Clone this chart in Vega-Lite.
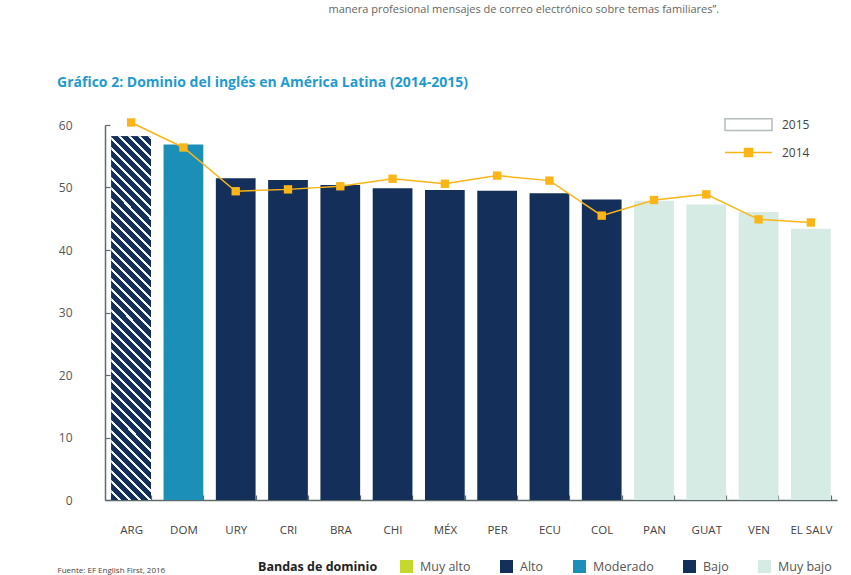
{
  "$schema": "https://vega.github.io/schema/vega-lite/v6.json",
  "width": 732,
  "height": 375,
  "autosize": "none",
  "padding": {"left": 105, "top": 125, "right": 14, "bottom": 75},
  "background": "white",
  "config": {"view": {"stroke": null}, "font": "Open Sans"},
  "title": {
    "text": "Gráfico 2: Dominio del inglés en América Latina (2014-2015)",
    "anchor": "start", "frame": "group", "dx": -48, "dy": 113, "offset": 26,
    "fontSize": 14, "fontWeight": "bold", "color": "#1f9bd0", "font": "Open Sans"
  },
  "data": {"values": [
    {"country": "ARG", "band": "Alto", "v2015": 58.2, "v2014": 60.4},
    {"country": "DOM", "band": "Moderado", "v2015": 56.9, "v2014": 56.4},
    {"country": "URY", "band": "Bajo", "v2015": 51.5, "v2014": 49.4},
    {"country": "CRI", "band": "Bajo", "v2015": 51.2, "v2014": 49.7},
    {"country": "BRA", "band": "Bajo", "v2015": 50.4, "v2014": 50.2},
    {"country": "CHI", "band": "Bajo", "v2015": 49.9, "v2014": 51.4},
    {"country": "MÉX", "band": "Bajo", "v2015": 49.6, "v2014": 50.6},
    {"country": "PER", "band": "Bajo", "v2015": 49.5, "v2014": 51.9},
    {"country": "ECU", "band": "Bajo", "v2015": 49.1, "v2014": 51.1},
    {"country": "COL", "band": "Bajo", "v2015": 48.1, "v2014": 45.5},
    {"country": "PAN", "band": "Muy bajo", "v2015": 47.9, "v2014": 48.0},
    {"country": "GUAT", "band": "Muy bajo", "v2015": 47.3, "v2014": 48.9},
    {"country": "VEN", "band": "Muy bajo", "v2015": 46.1, "v2014": 44.9},
    {"country": "EL SALV", "band": "Muy bajo", "v2015": 43.4, "v2014": 44.4}
  ]},
  "encoding": {
    "x": {
      "field": "country", "type": "nominal", "sort": null,
      "scale": {"paddingInner": 0.24, "paddingOuter": 0.12},
      "axis": {
        "title": "Fuente: EF English First, 2016",
        "titleX": -48, "titleY": 70, "titleAlign": "left", "titleAnchor": null, "titleBaseline": "middle",
        "titleFontSize": 8, "titleFontWeight": "normal", "titleColor": "#444",
        "labelAngle": 0, "labelFontSize": 11.5, "labelColor": "#444", "labelPadding": 29,
        "tickBand": "extent", "tickSize": -5, "tickColor": "#5f6b6b", "tickWidth": 1.2,
        "domainColor": "#5f6b6b", "domainWidth": 1.5
      }
    }
  },
  "layer": [
    {
      "mark": {"type": "bar"},
      "encoding": {
        "y": {
          "field": "v2015", "type": "quantitative",
          "scale": {"domain": [0, 60], "nice": false},
          "axis": {"title": "manera profesional mensajes de correo electrónico sobre temas familiares”.", "titleX": 223, "titleY": -113, "titleAngle": 0, "titleAlign": "left", "titleBaseline": "alphabetic", "titleFontSize": 11, "titleFontWeight": "normal", "titleColor": "#666",
            "values": [0, 10, 20, 30, 40, 50, 60], "grid": false, "tickSize": -5, "tickColor": "#5f6b6b", "tickWidth": 1.2, "labelPadding": 38, "labelFontSize": 12, "labelColor": "#555", "domainColor": "#5f6b6b", "domainWidth": 1.5}
        },
        "fill": {
          "field": "band", "type": "nominal",
          "scale": {
            "domain": ["Muy alto", "Alto", "Moderado", "Bajo", "Muy bajo"],
            "range": ["#c4d82e", "#14305a", "#1b8fb7", "#14305a", "#d5ebe3"]
          },
          "legend": {
            "orient": "none", "legendX": 153, "legendY": 435, "direction": "horizontal",
            "title": "Bandas de dominio", "titleOrient": "left", "titleFontSize": 12.5, "titleFontWeight": "bold",
            "titleColor": "#222", "titlePadding": 22,
            "symbolType": "square", "symbolSize": 169, "symbolStrokeWidth": 0,
            "labelFontSize": 12.5, "labelColor": "#555", "labelOffset": 7, "columnPadding": 29
          }
        },
        "opacity": {
          "datum": "2015", "type": "nominal",
          "scale": {"range": [1]},
          "legend": {
            "orient": "none", "legendX": 619, "legendY": -25, "title": null,
            "symbolType": "M-1,-0.25H1V0.25H-1Z", "symbolSize": 2209, "symbolStrokeWidth": 1.5,
            "symbolFillColor": "#ffffff", "symbolStrokeColor": "#b4bcbc",
            "labelFontSize": 12, "labelColor": "#444", "labelOffset": 9
          }
        }
      }
    },
    {
      "transform": [{"filter": "datum.band === 'Alto'"}],
      "mark": {"type": "bar",
        "fill": {"gradient": "linear", "x1": 0, "y1": 1, "x2": 0.1202, "y2": -0.0964, "stops": [
              {"offset":0,"color":"#14305a"},{"offset":0.0175,"color":"#14305a"},{"offset":0.0175,"color":"#f2f5f7"},{"offset":0.025,"color":"#f2f5f7"},
              {"offset":0.025,"color":"#14305a"},{"offset":0.0425,"color":"#14305a"},{"offset":0.0425,"color":"#f2f5f7"},{"offset":0.05,"color":"#f2f5f7"},
              {"offset":0.05,"color":"#14305a"},{"offset":0.0675,"color":"#14305a"},{"offset":0.0675,"color":"#f2f5f7"},{"offset":0.075,"color":"#f2f5f7"},
              {"offset":0.075,"color":"#14305a"},{"offset":0.0925,"color":"#14305a"},{"offset":0.0925,"color":"#f2f5f7"},{"offset":0.1,"color":"#f2f5f7"},
              {"offset":0.1,"color":"#14305a"},{"offset":0.1175,"color":"#14305a"},{"offset":0.1175,"color":"#f2f5f7"},{"offset":0.125,"color":"#f2f5f7"},
              {"offset":0.125,"color":"#14305a"},{"offset":0.1425,"color":"#14305a"},{"offset":0.1425,"color":"#f2f5f7"},{"offset":0.15,"color":"#f2f5f7"},
              {"offset":0.15,"color":"#14305a"},{"offset":0.1675,"color":"#14305a"},{"offset":0.1675,"color":"#f2f5f7"},{"offset":0.175,"color":"#f2f5f7"},
              {"offset":0.175,"color":"#14305a"},{"offset":0.1925,"color":"#14305a"},{"offset":0.1925,"color":"#f2f5f7"},{"offset":0.2,"color":"#f2f5f7"},
              {"offset":0.2,"color":"#14305a"},{"offset":0.2175,"color":"#14305a"},{"offset":0.2175,"color":"#f2f5f7"},{"offset":0.225,"color":"#f2f5f7"},
              {"offset":0.225,"color":"#14305a"},{"offset":0.2425,"color":"#14305a"},{"offset":0.2425,"color":"#f2f5f7"},{"offset":0.25,"color":"#f2f5f7"},
              {"offset":0.25,"color":"#14305a"},{"offset":0.2675,"color":"#14305a"},{"offset":0.2675,"color":"#f2f5f7"},{"offset":0.275,"color":"#f2f5f7"},
              {"offset":0.275,"color":"#14305a"},{"offset":0.2925,"color":"#14305a"},{"offset":0.2925,"color":"#f2f5f7"},{"offset":0.3,"color":"#f2f5f7"},
              {"offset":0.3,"color":"#14305a"},{"offset":0.3175,"color":"#14305a"},{"offset":0.3175,"color":"#f2f5f7"},{"offset":0.325,"color":"#f2f5f7"},
              {"offset":0.325,"color":"#14305a"},{"offset":0.3425,"color":"#14305a"},{"offset":0.3425,"color":"#f2f5f7"},{"offset":0.35,"color":"#f2f5f7"},
              {"offset":0.35,"color":"#14305a"},{"offset":0.3675,"color":"#14305a"},{"offset":0.3675,"color":"#f2f5f7"},{"offset":0.375,"color":"#f2f5f7"},
              {"offset":0.375,"color":"#14305a"},{"offset":0.3925,"color":"#14305a"},{"offset":0.3925,"color":"#f2f5f7"},{"offset":0.4,"color":"#f2f5f7"},
              {"offset":0.4,"color":"#14305a"},{"offset":0.4175,"color":"#14305a"},{"offset":0.4175,"color":"#f2f5f7"},{"offset":0.425,"color":"#f2f5f7"},
              {"offset":0.425,"color":"#14305a"},{"offset":0.4425,"color":"#14305a"},{"offset":0.4425,"color":"#f2f5f7"},{"offset":0.45,"color":"#f2f5f7"},
              {"offset":0.45,"color":"#14305a"},{"offset":0.4675,"color":"#14305a"},{"offset":0.4675,"color":"#f2f5f7"},{"offset":0.475,"color":"#f2f5f7"},
              {"offset":0.475,"color":"#14305a"},{"offset":0.4925,"color":"#14305a"},{"offset":0.4925,"color":"#f2f5f7"},{"offset":0.5,"color":"#f2f5f7"},
              {"offset":0.5,"color":"#14305a"},{"offset":0.5175,"color":"#14305a"},{"offset":0.5175,"color":"#f2f5f7"},{"offset":0.525,"color":"#f2f5f7"},
              {"offset":0.525,"color":"#14305a"},{"offset":0.5425,"color":"#14305a"},{"offset":0.5425,"color":"#f2f5f7"},{"offset":0.55,"color":"#f2f5f7"},
              {"offset":0.55,"color":"#14305a"},{"offset":0.5675,"color":"#14305a"},{"offset":0.5675,"color":"#f2f5f7"},{"offset":0.575,"color":"#f2f5f7"},
              {"offset":0.575,"color":"#14305a"},{"offset":0.5925,"color":"#14305a"},{"offset":0.5925,"color":"#f2f5f7"},{"offset":0.6,"color":"#f2f5f7"},
              {"offset":0.6,"color":"#14305a"},{"offset":0.6175,"color":"#14305a"},{"offset":0.6175,"color":"#f2f5f7"},{"offset":0.625,"color":"#f2f5f7"},
              {"offset":0.625,"color":"#14305a"},{"offset":0.6425,"color":"#14305a"},{"offset":0.6425,"color":"#f2f5f7"},{"offset":0.65,"color":"#f2f5f7"},
              {"offset":0.65,"color":"#14305a"},{"offset":0.6675,"color":"#14305a"},{"offset":0.6675,"color":"#f2f5f7"},{"offset":0.675,"color":"#f2f5f7"},
              {"offset":0.675,"color":"#14305a"},{"offset":0.6925,"color":"#14305a"},{"offset":0.6925,"color":"#f2f5f7"},{"offset":0.7,"color":"#f2f5f7"},
              {"offset":0.7,"color":"#14305a"},{"offset":0.7175,"color":"#14305a"},{"offset":0.7175,"color":"#f2f5f7"},{"offset":0.725,"color":"#f2f5f7"},
              {"offset":0.725,"color":"#14305a"},{"offset":0.7425,"color":"#14305a"},{"offset":0.7425,"color":"#f2f5f7"},{"offset":0.75,"color":"#f2f5f7"},
              {"offset":0.75,"color":"#14305a"},{"offset":0.7675,"color":"#14305a"},{"offset":0.7675,"color":"#f2f5f7"},{"offset":0.775,"color":"#f2f5f7"},
              {"offset":0.775,"color":"#14305a"},{"offset":0.7925,"color":"#14305a"},{"offset":0.7925,"color":"#f2f5f7"},{"offset":0.8,"color":"#f2f5f7"},
              {"offset":0.8,"color":"#14305a"},{"offset":0.8175,"color":"#14305a"},{"offset":0.8175,"color":"#f2f5f7"},{"offset":0.825,"color":"#f2f5f7"},
              {"offset":0.825,"color":"#14305a"},{"offset":0.8425,"color":"#14305a"},{"offset":0.8425,"color":"#f2f5f7"},{"offset":0.85,"color":"#f2f5f7"},
              {"offset":0.85,"color":"#14305a"},{"offset":0.8675,"color":"#14305a"},{"offset":0.8675,"color":"#f2f5f7"},{"offset":0.875,"color":"#f2f5f7"},
              {"offset":0.875,"color":"#14305a"},{"offset":0.8925,"color":"#14305a"},{"offset":0.8925,"color":"#f2f5f7"},{"offset":0.9,"color":"#f2f5f7"},
              {"offset":0.9,"color":"#14305a"},{"offset":0.9175,"color":"#14305a"},{"offset":0.9175,"color":"#f2f5f7"},{"offset":0.925,"color":"#f2f5f7"},
              {"offset":0.925,"color":"#14305a"},{"offset":0.9425,"color":"#14305a"},{"offset":0.9425,"color":"#f2f5f7"},{"offset":0.95,"color":"#f2f5f7"},
              {"offset":0.95,"color":"#14305a"},{"offset":0.9675,"color":"#14305a"},{"offset":0.9675,"color":"#f2f5f7"},{"offset":0.975,"color":"#f2f5f7"},
              {"offset":0.975,"color":"#14305a"},{"offset":0.9925,"color":"#14305a"},{"offset":0.9925,"color":"#f2f5f7"},{"offset":1,"color":"#f2f5f7"}
            ]}
      },
      "encoding": {
        "y": {
          "field": "v2015", "type": "quantitative",
          "scale": {"domain": [0, 60], "nice": false},
          "axis": {"title": "manera profesional mensajes de correo electrónico sobre temas familiares”.", "titleX": 223, "titleY": -113, "titleAngle": 0, "titleAlign": "left", "titleBaseline": "alphabetic", "titleFontSize": 11, "titleFontWeight": "normal", "titleColor": "#666",
            "values": [0, 10, 20, 30, 40, 50, 60], "grid": false, "tickSize": -5, "tickColor": "#5f6b6b", "tickWidth": 1.2, "labelPadding": 38, "labelFontSize": 12, "labelColor": "#555", "domainColor": "#5f6b6b", "domainWidth": 1.5}
        }
      }
    },
    {
      "mark": {"type": "line", "strokeWidth": 1.5, "color": "#fbb516"},
      "encoding": {
        "y": {
          "field": "v2014", "type": "quantitative",
          "scale": {"domain": [0, 60], "nice": false},
          "axis": {"title": "manera profesional mensajes de correo electrónico sobre temas familiares”.", "titleX": 223, "titleY": -113, "titleAngle": 0, "titleAlign": "left", "titleBaseline": "alphabetic", "titleFontSize": 11, "titleFontWeight": "normal", "titleColor": "#666",
            "values": [0, 10, 20, 30, 40, 50, 60], "grid": false, "tickSize": -5, "tickColor": "#5f6b6b", "tickWidth": 1.2, "labelPadding": 38, "labelFontSize": 12, "labelColor": "#555", "domainColor": "#5f6b6b", "domainWidth": 1.5}
        }
      }
    },
    {
      "mark": {"type": "point", "shape": "square", "size": 70, "filled": true, "opacity": 1},
      "encoding": {
        "y": {
          "field": "v2014", "type": "quantitative",
          "scale": {"domain": [0, 60], "nice": false},
          "axis": {"title": "manera profesional mensajes de correo electrónico sobre temas familiares”.", "titleX": 223, "titleY": -113, "titleAngle": 0, "titleAlign": "left", "titleBaseline": "alphabetic", "titleFontSize": 11, "titleFontWeight": "normal", "titleColor": "#666",
            "values": [0, 10, 20, 30, 40, 50, 60], "grid": false, "tickSize": -5, "tickColor": "#5f6b6b", "tickWidth": 1.2, "labelPadding": 38, "labelFontSize": 12, "labelColor": "#555", "domainColor": "#5f6b6b", "domainWidth": 1.5}
        },
        "color": {
          "datum": "2014", "type": "nominal",
          "scale": {"range": ["#fbb516"]},
          "legend": {
            "orient": "none", "legendX": 619, "legendY": 3, "title": null,
            "symbolType": "M-1,0H1M-0.17,-0.17H0.17V0.17H-0.17Z", "symbolSize": 2209, "symbolStrokeWidth": 1.5,
            "symbolStrokeColor": "#fbb516",
            "labelFontSize": 12, "labelColor": "#444", "labelOffset": 9
          }
        }
      }
    }
  ]
}
